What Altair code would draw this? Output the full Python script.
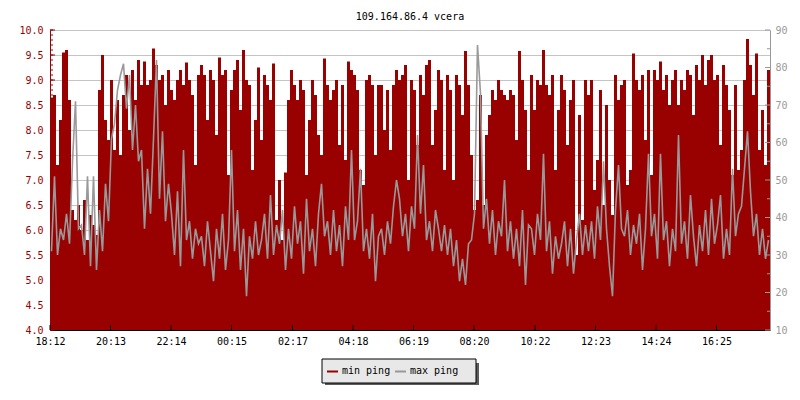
import json
import altair as alt
import pandas as pd

TITLE = "109.164.86.4 vcera"
SERIES = ["min ping", "max ping"]
COLORS = ["#990000", "#999999"]
FONT = "DejaVu Sans Mono"

TICK_MIN = [0, 121, 242, 363, 485, 606, 727, 848, 970, 1091, 1212, 1333]
TICK_LABELS = ["18:12", "20:13", "22:14", "00:15", "02:17", "04:18",
               "06:19", "08:20", "10:22", "12:23", "14:24", "16:25"]
LEFT_LABELS = [4.0, 4.5, 5.0, 5.5, 6.0, 6.5, 7.0, 7.5, 8.0, 8.5, 9.0, 9.5, 10.0]
RIGHT_LABELS = [10, 20, 30, 40, 50, 60, 70, 80, 90]
RIGHT_MINOR = [15, 25, 35, 45, 55, 65, 75, 85]
STEP_MIN = 6  # minutes between samples

# min ping (ms, left axis)
MIN_PING = [
    8.65, 8.7, 7.3, 8.2, 9.55, 9.6, 8.6, 6.4, 6.2, 6.5,
    6.0, 6.6, 5.8, 6.3, 6.1, 5.9, 8.8, 9.5, 8.2, 7.8,
    9.0, 7.6, 8.6, 7.5, 8.7, 9.1, 8.0, 9.2, 8.6, 9.4,
    8.9, 9.37, 8.9, 9.0, 9.63, 9.3, 9.0, 9.1, 8.5, 9.2,
    8.8, 8.6, 9.0, 9.2, 8.9, 9.35, 9.0, 8.7, 7.3, 9.1,
    9.3, 9.1, 8.2, 9.2, 9.0, 7.9, 9.45, 9.1, 9.2, 7.1,
    8.8, 9.2, 9.4, 8.4, 9.6, 9.0, 8.9, 7.2, 8.2, 9.25,
    7.8, 9.1, 8.9, 8.6, 9.33, 6.2, 7.0, 5.8, 7.15, 8.6,
    9.2, 8.9, 8.6, 9.0, 8.8, 7.1, 8.2, 9.0, 8.7, 7.9,
    7.5, 9.43, 8.9, 8.6, 8.8, 9.0, 7.7, 8.9, 7.4, 9.37,
    9.2, 9.1, 8.8, 7.2, 6.9, 9.0, 9.1, 8.9, 7.5, 8.9,
    8.9, 8.0, 8.8, 7.6, 8.9, 9.2, 9.0, 9.1, 9.3, 7.0,
    9.0, 8.8, 7.7, 9.1, 8.7, 9.3, 9.4, 7.7, 8.4, 9.2,
    9.0, 7.2, 9.1, 8.8, 7.0, 9.1, 8.9, 8.3, 9.58, 8.9,
    7.5, 6.4, 6.6, 8.7, 6.5, 7.9, 8.3, 8.8, 8.6, 9.0,
    8.8, 8.7, 8.6, 8.8, 8.7, 7.8, 9.58, 9.0, 8.4, 7.2,
    9.1, 8.4, 9.0, 8.9, 9.6, 8.9, 8.7, 9.1, 7.2, 8.4,
    9.1, 8.8, 7.7, 8.6, 9.0, 5.5, 8.3, 6.2, 9.0, 8.7,
    9.0, 6.8, 7.4, 8.8, 6.5, 8.5, 7.0, 6.3, 9.1, 8.6,
    8.9, 9.0, 6.9, 7.2, 9.53, 9.0, 8.8, 9.1, 7.8, 9.2,
    7.1, 9.2, 9.0, 9.37, 8.8, 9.1, 8.5, 9.0, 9.2, 8.5,
    9.0, 8.8, 9.2, 9.1, 8.3, 9.3, 9.0, 9.5, 8.9, 9.4,
    9.5, 9.0, 9.1, 7.7, 9.3, 8.9, 8.4, 7.1, 8.9, 7.2,
    7.6, 9.0, 9.82, 9.3, 8.7, 9.53, 7.6, 8.4, 7.3, 9.2,
]

# max ping (ms, right axis)
MAX_PING = [
    31, 51, 30, 37, 34, 41, 33, 55, 71, 37,
    38, 30, 51, 27, 51, 26, 42, 31, 49, 39,
    61, 65, 74, 78, 81, 69, 78, 58, 70, 55,
    58, 37, 53, 41, 61, 82, 45, 63, 39, 49,
    41, 30, 47, 27, 58, 34, 39, 29, 37, 33,
    35, 27, 39, 31, 23, 37, 29, 41, 26, 34,
    58, 31, 42, 26, 37, 19, 35, 29, 39, 30,
    34, 41, 29, 46, 30, 38, 33, 42, 26, 37,
    29, 43, 33, 39, 25, 45, 31, 37, 27, 41,
    49, 35, 39, 30, 42, 31, 38, 27, 43, 34,
    58, 34, 39, 53, 31, 37, 29, 41, 23, 35,
    37, 30, 39, 33, 43, 50, 45, 35, 41, 31,
    43, 37, 62, 41, 54, 34, 39, 31, 42, 37,
    31, 38, 30, 37, 27, 34, 23, 29, 22, 33,
    34, 41, 86, 73, 37, 45, 33, 42, 30, 39,
    35, 50, 31, 39, 29, 37, 27, 42, 22, 38,
    37, 30, 41, 34, 57, 31, 39, 25, 35, 29,
    33, 39, 27, 37, 25, 34, 41, 30, 38, 31,
    39, 29, 43, 34, 55, 37, 27, 19, 42, 54,
    37, 35, 42, 30, 38, 33, 41, 26, 37, 57,
    35, 41, 29, 57, 34, 39, 27, 37, 31, 62,
    33, 39, 29, 46, 35, 27, 38, 31, 42, 30,
    45, 33, 38, 46, 29, 37, 30, 53, 35, 41,
    43, 53, 63, 47, 35, 41, 30, 37, 29, 34,
]

W, H = 720, 300

t = [i * STEP_MIN for i in range(len(MIN_PING))]
df = pd.DataFrame({
    "t": t,
    "t2": [v + STEP_MIN for v in t],
    "tc": [v + STEP_MIN / 2 for v in t],
    "min": MIN_PING,
    "max": MAX_PING,
})

xscale = alt.Scale(domain=[0, 1440], nice=False, zero=False)
lscale = alt.Scale(domain=[4, 10], nice=False, zero=False)
rscale = alt.Scale(domain=[10, 90], nice=False, zero=False)

label_expr = "{}[indexof({}, datum.value)]".format(
    json.dumps(TICK_LABELS).replace('"', "'"), json.dumps(TICK_MIN))

red = alt.Chart(df).mark_bar(color=COLORS[0]).encode(
    x=alt.X("t:Q", scale=xscale, axis=alt.Axis(
        values=TICK_MIN, labelExpr=label_expr, ticks=False, title=None, grid=False,
        labelFont=FONT, labelFontSize=10, labelColor="black", labelPadding=6,
        domainColor="black", labelFlush=False, labelOverlap=False)),
    x2="t2:Q",
    y=alt.Y("min:Q", scale=lscale, axis=alt.Axis(
        orient="left", values=LEFT_LABELS, format=".1f", ticks=False, title=None,
        labelFont=FONT, labelFontSize=10, labelColor=COLORS[0], labelPadding=7,
        domainColor=COLORS[0], grid=True, gridColor="#c4c4c4", gridWidth=1,
        labelFlush=False, labelOverlap=False)),
    y2=alt.datum(4),
)

gray = alt.Chart(df).mark_line(color=COLORS[1], strokeWidth=1.6).encode(
    x=alt.X("tc:Q", scale=xscale, axis=None),
    y=alt.Y("max:Q", scale=rscale, axis=alt.Axis(
        orient="right", values=RIGHT_LABELS, ticks=False, title=None,
        labelFont=FONT, labelFontSize=10, labelColor=COLORS[1], labelPadding=5,
        domainColor=COLORS[1], grid=False, labelFlush=False, labelOverlap=False)),
)

lminor = pd.DataFrame({"v": [round(4 + i * 0.1, 1) for i in range(61)]})
lmajor = pd.DataFrame({"v": LEFT_LABELS})
rminor = pd.DataFrame({"v": RIGHT_MINOR})
rmajor = pd.DataFrame({"v": RIGHT_LABELS})
bmajor = pd.DataFrame({"v": TICK_MIN})

lt_minor = alt.Chart(lminor).mark_rule(color=COLORS[0]).encode(
    y=alt.Y("v:Q", scale=lscale, axis=None), x=alt.value(0), x2=alt.value(3))
lt_major = alt.Chart(lmajor).mark_rule(color=COLORS[0]).encode(
    y=alt.Y("v:Q", scale=lscale, axis=None), x=alt.value(0), x2=alt.value(5))
rt_minor = alt.Chart(rminor).mark_rule(color=COLORS[1]).encode(
    y=alt.Y("v:Q", scale=rscale, axis=None), x=alt.value(W - 3), x2=alt.value(W))
rt_major = alt.Chart(rmajor).mark_rule(color=COLORS[1]).encode(
    y=alt.Y("v:Q", scale=rscale, axis=None), x=alt.value(W - 5), x2=alt.value(W))
bt_major = alt.Chart(bmajor).mark_rule(color="black").encode(
    x=alt.X("v:Q", scale=xscale, axis=None), y=alt.value(H - 5), y2=alt.value(H))

one = pd.DataFrame({"k": [0]})
LX, LY = 272, 329
shadow = alt.Chart(one).mark_rect(color="#5c5c5c").encode(
    x=alt.value(LX + 3), x2=alt.value(LX + 157), y=alt.value(LY + 4), y2=alt.value(LY + 28))
box = alt.Chart(one).mark_rect(fill="#e8e8e8", stroke="black", strokeWidth=1).encode(
    x=alt.value(LX), x2=alt.value(LX + 154), y=alt.value(LY), y2=alt.value(LY + 24))
sw1 = alt.Chart(one).mark_rule(color=COLORS[0], strokeWidth=2).encode(
    x=alt.value(LX + 5), x2=alt.value(LX + 16), y=alt.value(LY + 12.5))
sw2 = alt.Chart(one).mark_rule(color=COLORS[1], strokeWidth=2).encode(
    x=alt.value(LX + 73), x2=alt.value(LX + 84), y=alt.value(LY + 12.5))
tx1 = alt.Chart(one).mark_text(align="left", baseline="middle", font=FONT, fontSize=10, color="black").encode(
    x=alt.value(LX + 20), y=alt.value(LY + 12), text=alt.value(SERIES[0]))
tx2 = alt.Chart(one).mark_text(align="left", baseline="middle", font=FONT, fontSize=10, color="black").encode(
    x=alt.value(LX + 88), y=alt.value(LY + 12), text=alt.value(SERIES[1]))

chart = alt.layer(
    red, lt_minor, lt_major, gray, rt_minor, rt_major, bt_major,
    shadow, box, sw1, sw2, tx1, tx2,
).resolve_scale(y="independent").resolve_axis(x="independent").properties(
    width=W, height=H,
    title=alt.TitleParams(TITLE, font=FONT, fontSize=10, fontWeight="normal", color="black",
                          anchor="middle", offset=3),
    autosize=alt.AutoSizeParams(type="none"),
    padding={"left": 42, "top": 22, "right": 22, "bottom": 55},
).configure_view(stroke=None).configure(background="white")

chart.save("out.html", embed_options={"renderer": "svg", "actions": False})
